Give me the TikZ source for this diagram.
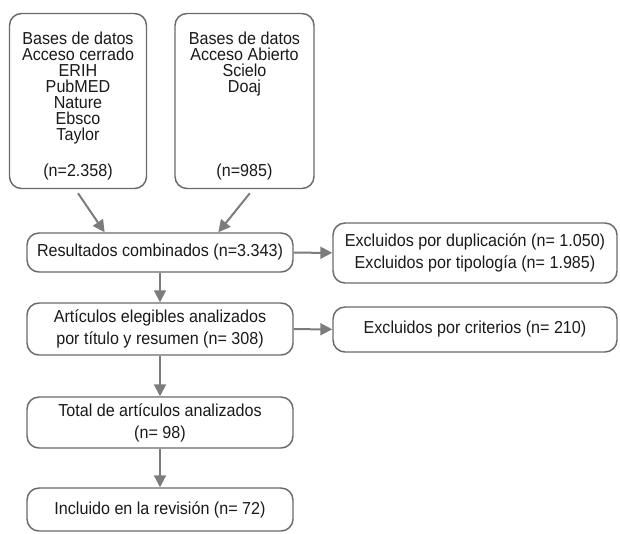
\documentclass[tikz,border=0pt]{standalone}
\usepackage{fontspec}
\setmainfont[FakeStretch=0.93]{Liberation Sans}
\usepackage{tikz}
\usetikzlibrary{arrows.meta,calc,positioning}
\definecolor{ink}{HTML}{1A1A1A}
\definecolor{frame}{HTML}{6A6A6A}
\definecolor{link}{HTML}{7C7C7C}

\begin{document}
\begin{tikzpicture}[
  x=0.75pt,y=-0.75pt,
  box/.style={draw=frame,line width=1.1pt,rounded corners=9pt,fill=white,
              align=center,inner sep=2pt,text=ink,font=\fontsize{13}{12}\selectfont},
  flow/.style={box,font=\fontsize{13}{16.5}\selectfont},
  arr/.style={link,line width=1.5pt,-{Triangle[length=9pt,width=9pt]}}
]
\useasboundingbox (0,0) rectangle (620,533);
% fuentes
\node[box,minimum width=102.75pt,minimum height=131.25pt] (closed) at (78,101)
  {\rule{0pt}{17pt}Bases de datos\\Acceso cerrado\\ERIH\\PubMED\\Nature\\Ebsco\\Taylor\\[14pt](n=2.358)};
\node[box,minimum width=104.25pt,minimum height=131.25pt] (open) at (244.5,101)
  {\rule{0pt}{17pt}Bases de datos\\Acceso Abierto\\Scielo\\Doaj\\[50pt](n=985)};
% flujo principal
\node[flow,minimum width=199.5pt,minimum height=29.25pt] (comb) at (160,252.5)
  {Resultados combinados (n=3.343)};
\node[flow,minimum width=199.5pt,minimum height=39pt] (elig) at (160,329)
  {Artículos elegibles analizados\\por título y resumen (n= 308)};
\node[flow,minimum width=199.5pt,minimum height=38.25pt] (total) at (160,422.5)
  {Total de artículos analizados\\(n= 98)};
\node[flow,minimum width=199.5pt,minimum height=32.25pt] (incl) at (160,509.5)
  {Incluido en la revisión (n= 72)};
% exclusiones
\node[flow,minimum width=213pt,minimum height=45pt] (dup) at (475,253)
  {Excluidos por duplicación (n= 1.050)\\Excluidos por tipología (n= 1.985)};
\node[flow,minimum width=213pt,minimum height=33.75pt] (crit) at (475,329.5)
  {Excluidos por criterios (n= 210)};
\draw[arr] ([yshift=-3pt]closed.south) -- ($(comb.north west)!0.293!(comb.north east)$);
\draw[arr] ([xshift=4pt,yshift=-3pt]open.south) -- ($(comb.north west)!0.718!(comb.north east)$);
\draw[arr] (comb) -- (elig);
\draw[arr] (elig) -- (total);
\draw[arr] (total) -- (incl);
\draw[arr] (comb) -- (dup);
\draw[arr] (elig) -- (crit);
\end{tikzpicture}
\end{document}
